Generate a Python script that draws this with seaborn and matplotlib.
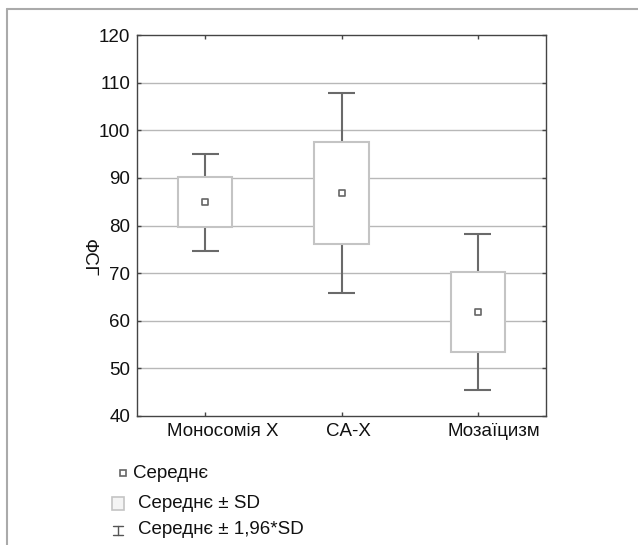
import matplotlib
matplotlib.use("Agg")
import matplotlib.pyplot as plt
import matplotlib.transforms as mtransforms
import seaborn as sns
import pandas as pd

# ---- data ----
groups = ["Моносомія X", "CA-X", "Мозаїцизм"]
means = [85.0, 86.9, 61.9]
sd_low = [79.7, 76.1, 53.5]
sd_high = [90.1, 97.5, 70.2]
ci_low = [74.7, 65.9, 45.4]
ci_high = [95.1, 107.9, 78.3]
y_ticks = [40, 50, 60, 70, 80, 90, 100, 110, 120]
y_label = "ФСГ"
legend_labels = ["Середнє", "Середнє ± SD", "Середнє ± 1,96*SD"]

sns.set_theme(style="white")
plt.rcParams["font.family"] = ["Liberation Sans", "DejaVu Sans"]

W, H = 638, 545
fig = plt.figure(figsize=(W / 100, H / 100), dpi=100)
ax = fig.add_axes([137 / W, 1 - 416 / H, 409 / W, 381 / H])

df = pd.DataFrame({"group": groups, "mean": means,
                   "sd_low": sd_low, "sd_high": sd_high,
                   "ci_low": ci_low, "ci_high": ci_high})
pos = list(range(len(groups)))

# grid
for t in y_ticks[1:-1]:
    ax.axhline(t, color="#b8b8b8", lw=1.0, zorder=0)

# whiskers (mean +- 1.96 SD)
whisk_col = "#6a6a6a"
ax.vlines(pos, df["ci_low"], df["ci_high"], color=whisk_col, lw=1.5, zorder=1)
ax.hlines(df["ci_low"], [p - 0.1 for p in pos], [p + 0.1 for p in pos],
          color=whisk_col, lw=1.5, zorder=1)
ax.hlines(df["ci_high"], [p - 0.1 for p in pos], [p + 0.1 for p in pos],
          color=whisk_col, lw=1.5, zorder=1)

# boxes (mean +- SD)
ax.bar(pos, df["sd_high"] - df["sd_low"], bottom=df["sd_low"], width=0.4,
       facecolor="white", edgecolor="#c4c4c4", linewidth=1.5, zorder=2)

# means
sns.scatterplot(data=df, x="group", y="mean", marker="s", s=18,
                facecolor="white", edgecolor="#666666", linewidth=1.2,
                ax=ax, zorder=3, legend=False)

ax.set_xlim(-0.5, len(groups) - 0.5)
ax.set_ylim(y_ticks[0], y_ticks[-1])
ax.set_yticks(y_ticks)
ax.set_xticks(pos)
ax.set_xticklabels(groups)
ax.set_xlabel("")
ax.set_ylabel("")
ax.tick_params(axis="both", direction="in", length=3, width=1, color="#444444",
               labelsize=13.5, labelcolor="#111111", top=True, right=True,
               bottom=True, left=True)
ax.tick_params(axis="x", pad=5)
ax.tick_params(axis="y", pad=5)
for s in ax.spines.values():
    s.set_visible(True)
    s.set_color("#444444")
    s.set_linewidth(1.0)

# category labels in the reference sit a little right of their ticks
label_shift_px = [18, 7, 16]
for lab, dx in zip(ax.get_xticklabels(), label_shift_px):
    lab.set_transform(lab.get_transform() +
                      mtransforms.ScaledTranslation(dx / 100, 0, fig.dpi_scale_trans))

fig.text(88 / W, 1 - 258 / H, y_label, rotation=270, ha="center", va="center",
         fontsize=13.5, color="#111111")

# overlay for outer frame (pixel coordinates)
lax = fig.add_axes([0, 0, 1, 1], zorder=-1)
lax.set_xlim(0, W)
lax.set_ylim(H, 0)
lax.axis("off")
lax.plot([7, 7], [H, 9], color="#aaaaaa", lw=1.5)
lax.plot([7, W], [9, 9], color="#aaaaaa", lw=1.5)

# legend (pixel coordinates)
lax2 = fig.add_axes([0, 0, 1, 1], zorder=5)
lax2.set_xlim(0, W)
lax2.set_ylim(H, 0)
lax2.axis("off")
lax2.plot([123], [473], marker="s", ms=4.3, mfc="white", mec="#666666", mew=1.2)
lax2.text(133, 473, legend_labels[0], va="center", ha="left", fontsize=13.5, color="#111111")
lax2.add_patch(plt.Rectangle((112, 497), 12, 13, facecolor="#f4f4f4",
                             edgecolor="#c4c4c4", lw=1.2))
lax2.text(138, 503, legend_labels[1], va="center", ha="left", fontsize=13.5, color="#111111")
lax2.plot([118, 118], [526, 535], color="#555555", lw=1)
lax2.plot([113, 123], [526, 526], color="#555555", lw=1)
lax2.plot([113, 123], [535, 535], color="#555555", lw=1)
lax2.text(138, 530, legend_labels[2], va="center", ha="left", fontsize=13.5, color="#111111")

fig.savefig("out.png", dpi=100)
